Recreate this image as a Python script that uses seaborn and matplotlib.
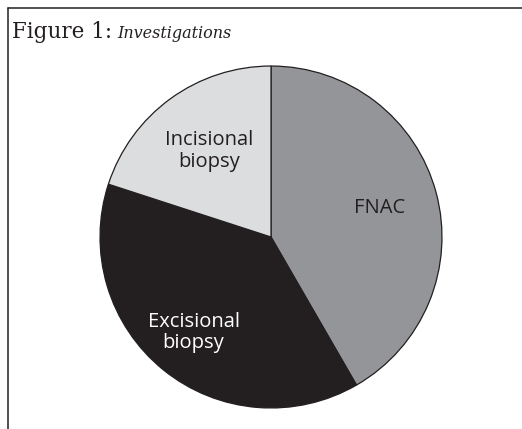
import matplotlib
matplotlib.use("Agg")
import matplotlib.pyplot as plt
import seaborn as sns
import numpy as np
from matplotlib.lines import Line2D

# data (counts)
categories = ['FNAC', 'Excisional\nbiopsy', 'Incisional\nbiopsy']
counts = [25, 23, 12]
slice_colors = ['#939598', '#231f20', '#dcdddf']
label_colors = ['#231f20', 'white', '#231f20']
label_radius = [0.66, 0.72, 0.62]

sns.set_theme(style='white')
plt.rcParams['font.family'] = ['Open Sans', 'DejaVu Sans']

W, H = 522, 429
fig = plt.figure(figsize=(W / 100, H / 100), dpi=100)

# pie axes: centre (271, 237) px, radius 172 px
cx, cy, r = 271, 237, 172
ax = fig.add_axes([(cx - r) / W, (H - cy - r) / H, 2 * r / W, 2 * r / H])

wedges, texts = ax.pie(counts, colors=slice_colors, startangle=90, counterclock=False,
                       labels=categories, labeldistance=0.65,
                       wedgeprops=dict(edgecolor='#231f20', linewidth=0.9),
                       textprops=dict(fontsize=14.5, linespacing=1.1, ha='center', va='center'))

for w, t, c, rd in zip(wedges, texts, label_colors, label_radius):
    mid = np.deg2rad((w.theta1 + w.theta2) / 2)
    t.set_position((rd * np.cos(mid), rd * np.sin(mid)))
    t.set_color(c)
    t.set_horizontalalignment('center')

ax.set_xlim(-1.006, 1.006)
ax.set_ylim(-1.006, 1.006)
ax.set_aspect('equal')
ax.axis('off')

# frame lines (top and left only)
fig.add_artist(Line2D([8 / W, 1], [1 - 8 / H, 1 - 8 / H], color='#231f20', lw=1.1))
fig.add_artist(Line2D([8 / W, 8 / W], [0, 1 - 8 / H], color='#231f20', lw=1.1))

# caption
t1 = fig.text(12 / W, 1 - 38 / H, 'Figure 1:', family=['DejaVu Serif'], fontsize=15.5,
              color='#231f20', va='baseline', ha='left')
renderer = fig.canvas.get_renderer()
x_end = t1.get_window_extent(renderer).x1
fig.text((x_end + 5) / W, 1 - 38 / H, 'Investigations', family=['DejaVu Serif'], style='italic',
         fontsize=11.5, color='#231f20', va='baseline', ha='left')

fig.savefig('out.png', dpi=100, facecolor='white')
